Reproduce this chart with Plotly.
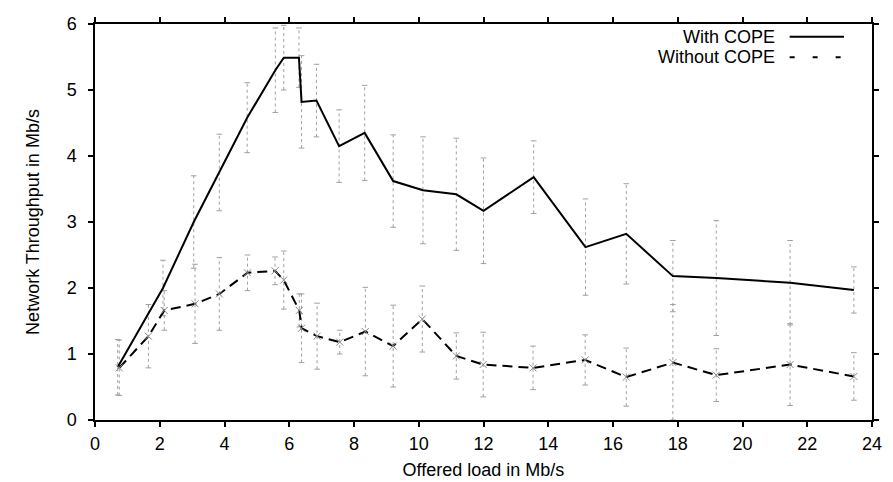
import plotly.graph_objects as go

# With COPE
x_cope = [0.7, 2.1, 3.05, 3.84, 4.7, 5.57, 5.83, 6.3, 6.38, 6.84, 7.54, 8.33, 9.21,
          10.13, 11.16, 12.0, 13.55, 15.15, 16.41, 17.85, 19.19, 21.47, 23.44]
y_cope = [0.8, 2.0, 3.0, 3.75, 4.58, 5.3, 5.49, 5.49, 4.82, 4.84, 4.15, 4.35, 3.62,
          3.48, 3.42, 3.17, 3.68, 2.62, 2.82, 2.18, 2.15, 2.08, 1.97]
err_cope = [0.42, 0.42, 0.7, 0.58, 0.53, 0.64, 0.49, 0.45, 0.7, 0.55, 0.55, 0.72, 0.7,
            0.81, 0.85, 0.8, 0.55, 0.73, 0.76, 0.54, 0.87, 0.64, 0.35]

# Without COPE
x_no = [0.75, 1.65, 2.14, 3.09, 3.84, 4.71, 5.56, 5.83, 6.31, 6.38, 6.86, 7.56, 8.35,
        9.21, 10.11, 11.16, 11.99, 13.53, 15.14, 16.41, 17.85, 19.19, 21.47, 23.44]
y_no = [0.79, 1.27, 1.66, 1.76, 1.91, 2.23, 2.26, 2.12, 1.66, 1.39, 1.27, 1.18, 1.34,
        1.12, 1.53, 0.97, 0.84, 0.79, 0.91, 0.65, 0.87, 0.68, 0.84, 0.66]
err_no = [0.42, 0.48, 0.3, 0.6, 0.55, 0.27, 0.21, 0.44, 0.25, 0.52, 0.5, 0.18, 0.67,
          0.62, 0.5, 0.35, 0.49, 0.33, 0.38, 0.44, 0.88, 0.4, 0.62, 0.36]

FONT = "Liberation Sans, Arial"
GREY = "#a0a0a0"

fig = go.Figure()

# error bars drawn as dotted grey segments with small caps
def add_errbars(xs, ys, es):
    seg_x, seg_y, cap_x, cap_y = [], [], [], []
    for x, y, e in zip(xs, ys, es):
        lo = max(y - e, 0)
        hi = y + e
        seg_x += [x, x, None]
        seg_y += [lo, hi, None]
        cap_x += [x, x]
        cap_y += [lo, hi]
    fig.add_trace(go.Scatter(x=seg_x, y=seg_y, mode='lines', showlegend=False,
                             line=dict(color=GREY, width=1, dash='dot'), hoverinfo='skip'))
    fig.add_trace(go.Scatter(x=cap_x, y=cap_y, mode='markers', showlegend=False,
                             marker=dict(symbol='line-ew', size=4,
                                         line=dict(color=GREY, width=1)),
                             hoverinfo='skip'))

add_errbars(x_cope, y_cope, err_cope)
add_errbars(x_no, y_no, err_no)

fig.add_trace(go.Scatter(x=x_cope, y=y_cope, mode='lines', name='With COPE',
                         line=dict(color='black', width=2)))
fig.add_trace(go.Scatter(x=x_no, y=y_no, mode='lines+markers', name='Without COPE',
                         line=dict(color='black', width=2, dash='10px,6px'),
                         marker=dict(symbol='x-thin', size=7,
                                     line=dict(color='#888888', width=1))))

# legend like gnuplot: text then line sample
legend_items = [("With COPE", 0.968, 'solid'), ("Without COPE", 0.916, '5px,18px')]
for txt, yy, dash in legend_items:
    fig.add_annotation(xref='paper', yref='paper', x=0.878, y=yy, text=txt,
                       showarrow=False, xanchor='right', yanchor='middle',
                       font=dict(family=FONT, size=18, color='black'))
    fig.add_shape(type='line', xref='paper', yref='paper', x0=0.894, x1=0.964,
                  y0=yy, y1=yy, line=dict(color='black', width=2, dash=dash))

axis_common = dict(showline=True, linecolor='black', linewidth=1.5, mirror='ticks',
                   ticks='outside', ticklen=5, tickcolor='black', tickwidth=1.5,
                   showgrid=False, zeroline=False,
                   tickfont=dict(family=FONT, size=18, color='black'))

fig.update_layout(
    width=893, height=482,
    margin=dict(l=87, r=29, t=6, b=70),
    plot_bgcolor='white', paper_bgcolor='white',
    showlegend=False,
    xaxis=dict(range=[0, 24], dtick=2, ticklabelstandoff=2,
               title=dict(text="Offered load in Mb/s", standoff=10,
                          font=dict(family=FONT, size=18, color='black')),
               **axis_common),
    yaxis=dict(range=[0, 6], dtick=1, ticklabelstandoff=8,
               title=dict(text="Network Throughput in Mb/s", standoff=22,
                          font=dict(family=FONT, size=18, color='black')),
               **axis_common),
)

fig.write_html("out.html")
